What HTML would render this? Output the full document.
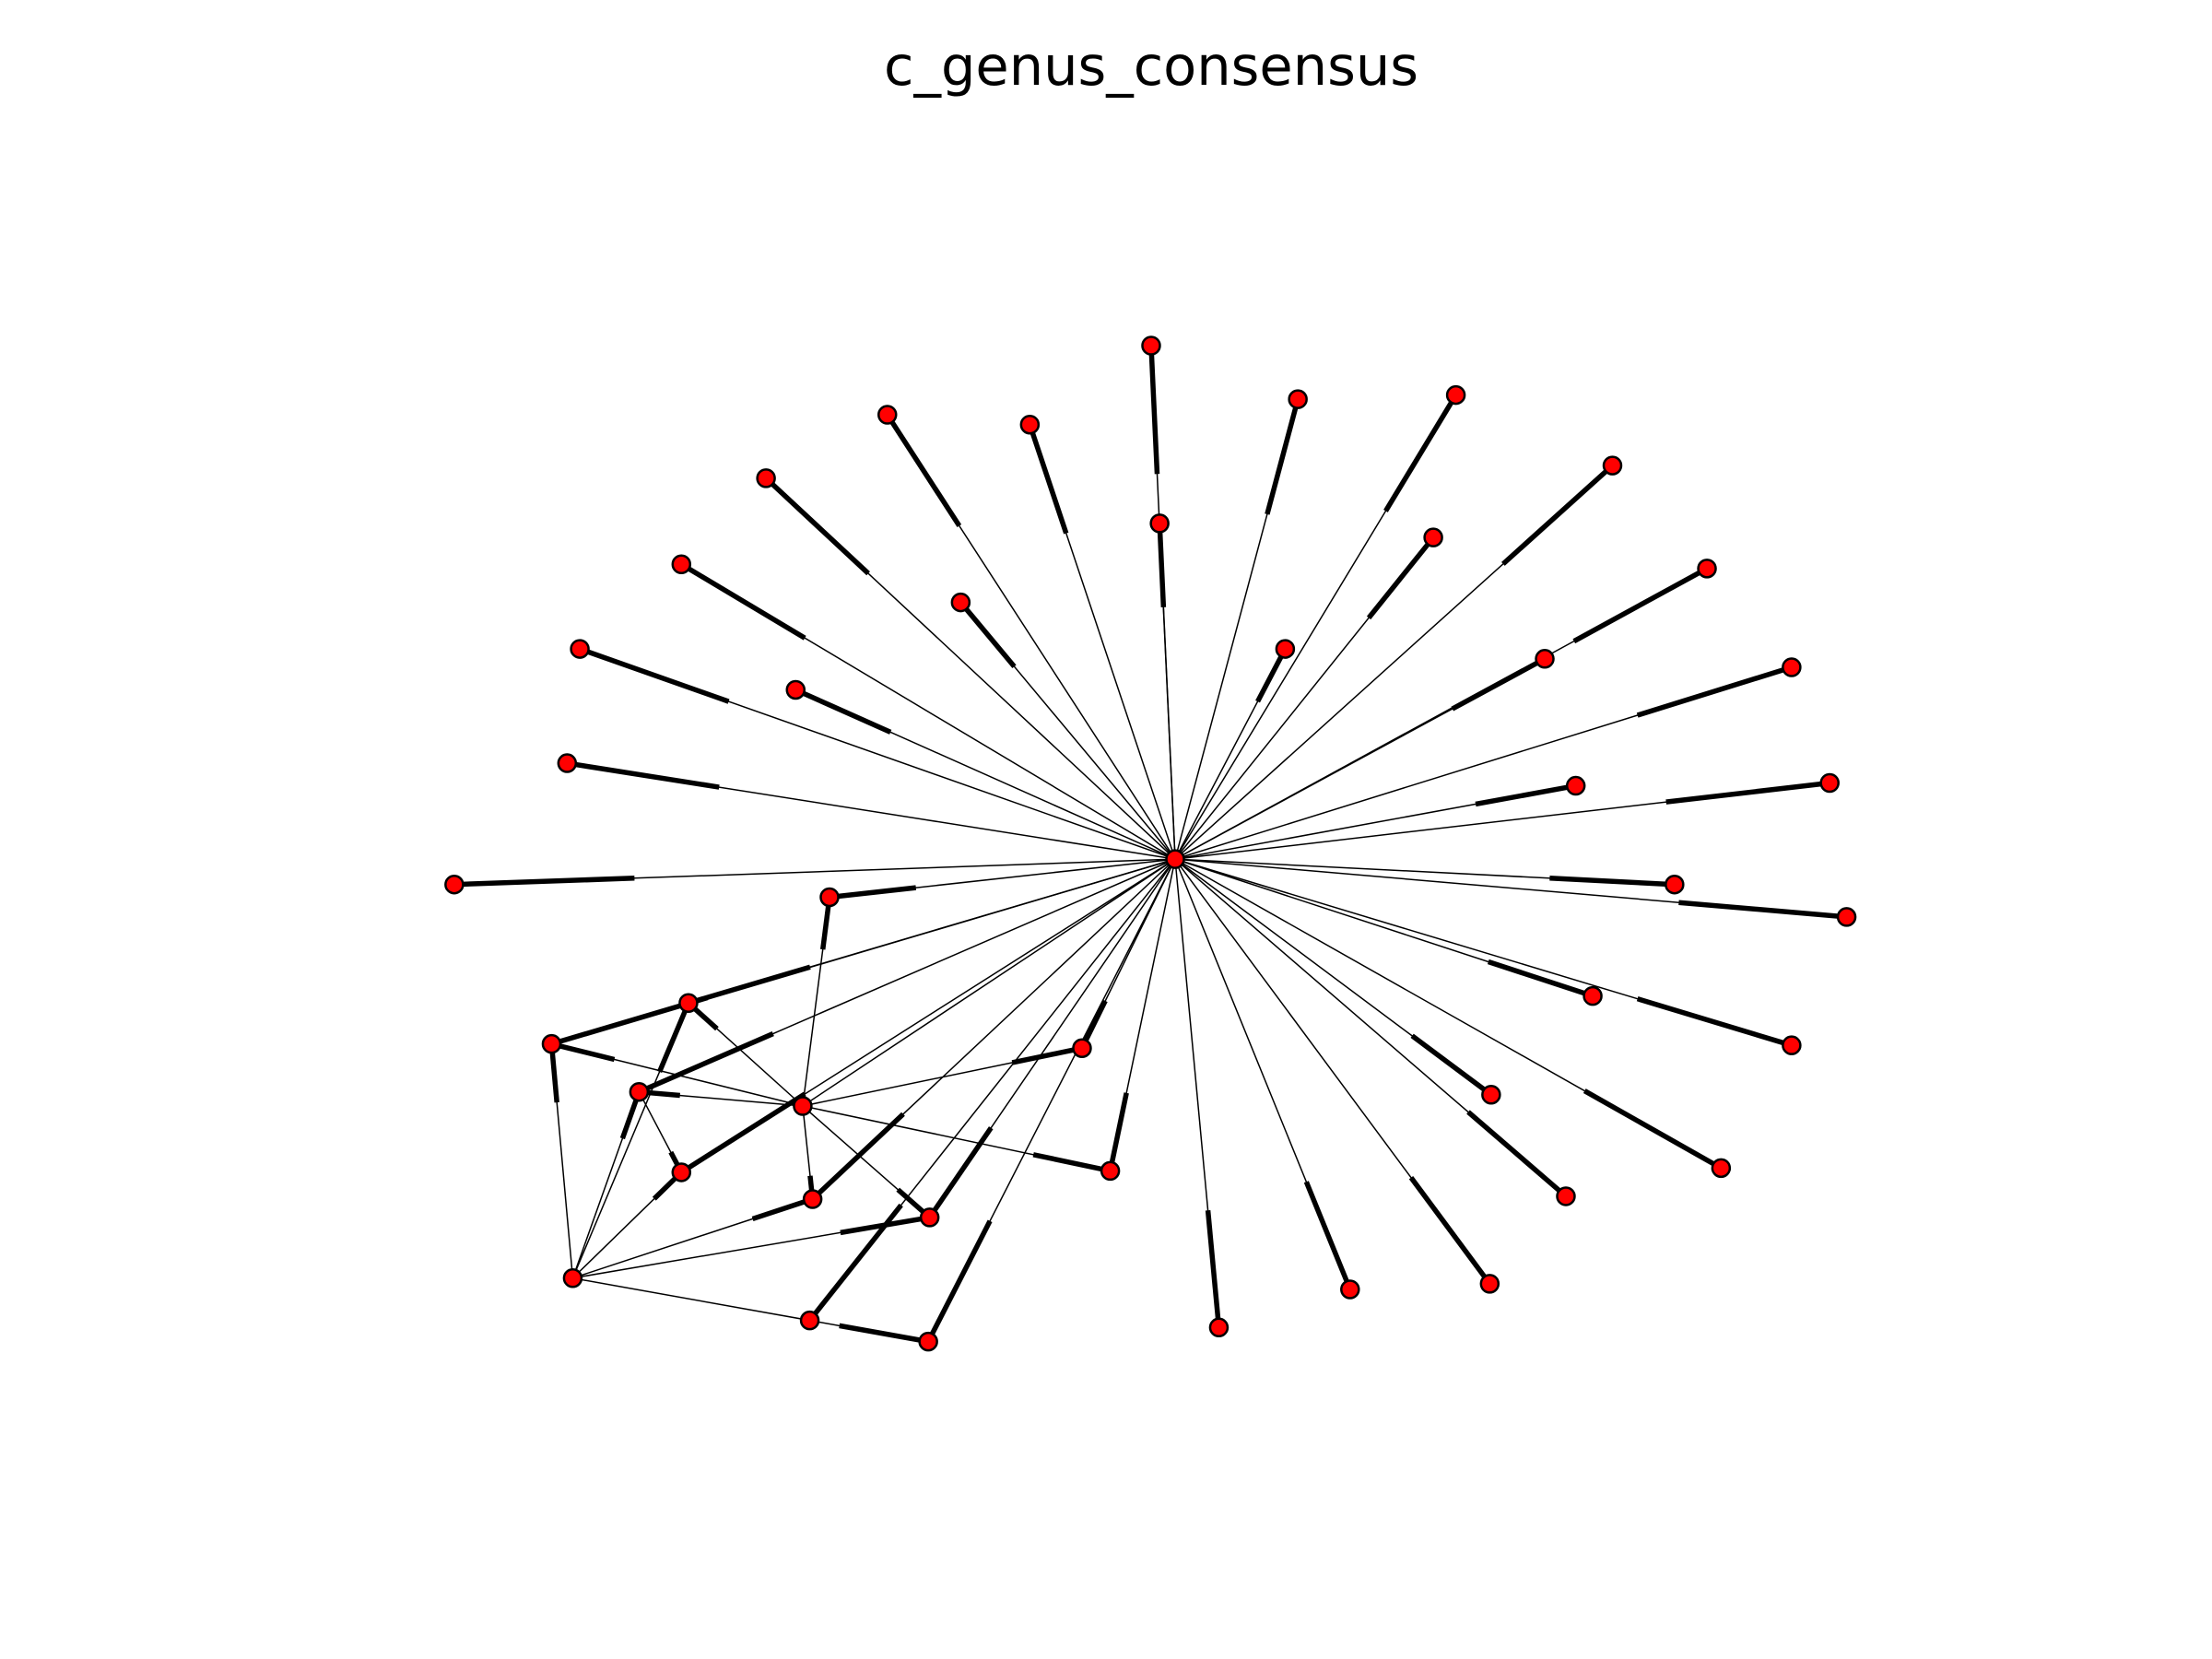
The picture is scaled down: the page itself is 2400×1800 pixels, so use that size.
<!DOCTYPE html>
<html><head><meta charset="utf-8"><style>
html,body{margin:0;padding:0;background:#fff}
svg{display:block}
</style></head><body>
<svg id="chart" width="2400" height="1800" viewBox="0 0 2400 1800" xmlns="http://www.w3.org/2000/svg">
<rect width="2400" height="1800" fill="#fff"/>
<text x="1249" y="92" text-anchor="middle" font-family="DejaVu Sans, Liberation Sans, sans-serif" font-size="59" fill="#000">c_genus_consensus</text>
<g id="edges"></g>
<g id="nodes"></g>
</svg>
<script>
const nodeX = [833,816,920,1032,1143,1210,1270,1297,1309,1270,1220,1110,1056,957,864,629,730,543,483,411,402,322,822,1016,681,911,1095,564,1117,1187,1129,1057,767,787,588,488,391,453,569,483,576,659,406,574,658];
const nodeY = [609,245,283,280,330,403,473,555,650,741,828,848,910,914,941,294,301,339,400,460,541,627,371,381,427,460,467,489,557,627,706,776,743,830,636,711,740,774,784,831,850,863,906,936,951];
const edgeSrc = [0,0,0,0,0,0,0,0,0,0, 0,0,0,0,0,0,0,0,0,0, 0,0,0,0,0,0,0,0,0,0, 0,0,0,0,0,0,0,0,0,0, 0,0, 38,38,38,38,38,38,38,38, 42,42,42,42,42,42, 37, 42];
const edgeDst = [1,2,3,4,5,6,7,8,9,10, 11,12,13,14,15,16,17,18,19,20, 21,22,23,24,25,26,27,28,29,30, 31,32,33,34,35,36,37,39,40,41, 43,44, 34,35,36,37,40,41,32,33, 36,35,37,39,40,41, 39, 44];
const linkSrc = [38];
const linkDst = [0];
const S = 2400/1568;
const NS = 'http://www.w3.org/2000/svg';
const eg = document.getElementById('edges');
const ng = document.getElementById('nodes');
function thinLine(a, b) {
  const l = document.createElementNS(NS, 'line');
  
  
  l.setAttribute('x1', nodeX[a]*S); l.setAttribute('y1', nodeY[a]*S);
  l.setAttribute('x2', nodeX[b]*S); l.setAttribute('y2', nodeY[b]*S);
  l.setAttribute('stroke', '#000'); l.setAttribute('stroke-width', '1.5');
  eg.appendChild(l);
}
for (let i = 0; i < linkSrc.length; i++) thinLine(linkSrc[i], linkDst[i]);
const n = Math.min(edgeSrc.length, edgeDst.length);
for (let i = 0; i < n; i++) {
  const a = edgeSrc[i], b = edgeDst[i];
  thinLine(a, b);
  const x1 = nodeX[a]*S, y1 = nodeY[a]*S, x2 = nodeX[b]*S, y2 = nodeY[b]*S;
  const mx = x2 + (x1 - x2)*0.25, my = y2 + (y1 - y2)*0.25;
  const thick = document.createElementNS(NS, 'line');
  
  
  thick.setAttribute('x1', mx); thick.setAttribute('y1', my);
  thick.setAttribute('x2', x2); thick.setAttribute('y2', y2);
  thick.setAttribute('stroke', '#000'); thick.setAttribute('stroke-width', '5.5');
  eg.appendChild(thick);
}
for (let i = 0; i < nodeX.length; i++) {
  const c = document.createElementNS(NS, 'circle');
  
  
  c.setAttribute('cx', nodeX[i]*S); c.setAttribute('cy', nodeY[i]*S);
  c.setAttribute('r', '9.5');
  c.setAttribute('fill', '#ff0000'); c.setAttribute('stroke', '#000'); c.setAttribute('stroke-width', '2.5');
  ng.appendChild(c);
}
</script>
</body></html>
